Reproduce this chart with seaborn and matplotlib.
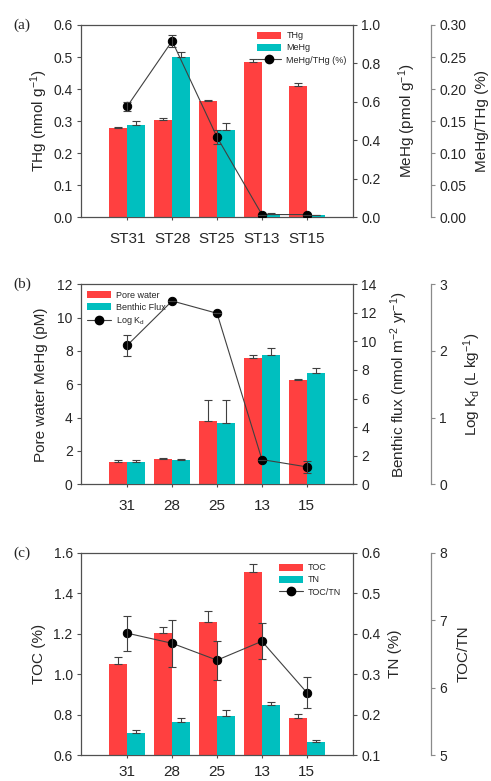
import numpy as np
import pandas as pd
import matplotlib
matplotlib.use("Agg")
import matplotlib.pyplot as plt
import seaborn as sns
from matplotlib.patches import Patch
from matplotlib.lines import Line2D

sns.set_style("ticks")
plt.rcParams["font.family"] = ["Liberation Sans", "DejaVu Sans"]
plt.rcParams["mathtext.default"] = "regular"

RED = "#FF4040"
CYAN = "#00BFBF"
SPINE = "#505050"
SPINE3 = "#8a8a8a"
LINE = "#404040"

# panel (a)
stations_a = ["ST31", "ST28", "ST25", "ST13", "ST15"]
thg = [0.278, 0.303, 0.362, 0.484, 0.409]
thg_err = [0.002, 0.008, 0.005, 0.010, 0.010]
mehg = [0.478, 0.833, 0.452, 0.017, 0.009]
mehg_err = [0.020, 0.025, 0.040, 0.002, 0.002]
ratio_a = [0.173, 0.275, 0.125, 0.004, 0.004]
ratio_a_err = [0.0075, 0.0094, 0.011, 0.0, 0.0]

# panel (b)
stations = ["31", "28", "25", "13", "15"]
pore = [1.32, 1.54, 3.78, 7.56, 6.28]
pore_err = [0.16, 0.02, 1.26, 0.22, 0.03]
flux = [1.54, 1.73, 4.32, 9.08, 7.77]
flux_err = [0.19, 0.07, 1.56, 0.49, 0.35]
logkd = [2.085, 2.75, 2.565, 0.37, 0.26]
logkd_err = [0.155, 0.0, 0.0, 0.0, 0.095]

# panel (c)
toc = [1.051, 1.205, 1.26, 1.504, 0.783]
toc_err = [0.037, 0.03, 0.055, 0.043, 0.023]
tn = [0.1545, 0.182, 0.197, 0.224, 0.133]
tn_err = [0.0075, 0.011, 0.014, 0.007, 0.004]
ratio_c = [6.81, 6.66, 6.41, 6.69, 5.93]
ratio_c_err = [0.26, 0.35, 0.29, 0.27, 0.23]


def style_spines(ax, ax2, ax3, xpad):
    for s in ax.spines.values():
        s.set_color(SPINE)
        s.set_linewidth(0.9)
    ax.spines["right"].set_visible(False)
    for name in ["left", "top", "bottom"]:
        ax2.spines[name].set_visible(False)
        ax3.spines[name].set_visible(False)
    ax2.spines["right"].set_color(SPINE)
    ax2.spines["right"].set_linewidth(0.9)
    ax3.spines["right"].set_position(("axes", 1.287))
    ax3.spines["right"].set_color(SPINE3)
    ax3.spines["right"].set_linewidth(0.9)
    ax.tick_params(axis="y", direction="out", length=3, width=0.8, color=SPINE, labelsize=10, pad=3)
    ax.tick_params(axis="x", direction="out", length=2, width=0.8, color=SPINE, labelsize=11, pad=xpad)
    ax2.tick_params(axis="y", direction="out", length=3, width=0.8, color=SPINE, labelsize=10, pad=3)
    ax3.tick_params(axis="y", direction="out", length=3, width=0.8, color=SPINE3, labelsize=10, pad=3)


def panel(rect, labels, v1, e1, v2, e2, v3, e3, lims, ticks, names, legend_kw, tag, xpad=9):
    ax = fig.add_axes(rect)
    ax2 = ax.twinx()
    ax3 = ax.twinx()
    x = np.arange(len(labels))
    df1 = pd.DataFrame({"pos": x - 0.2, "val": v1})
    df2 = pd.DataFrame({"pos": x + 0.2, "val": v2})
    sns.barplot(data=df1, x="pos", y="val", native_scale=True, width=0.4,
                color=RED, saturation=1, errorbar=None, linewidth=0, ax=ax)
    sns.barplot(data=df2, x="pos", y="val", native_scale=True, width=0.4,
                color=CYAN, saturation=1, errorbar=None, linewidth=0, ax=ax2)
    ax.errorbar(x - 0.2, v1, yerr=[np.zeros(len(x)), e1], fmt="none",
                ecolor=LINE, elinewidth=0.8, capsize=3, capthick=0.8)
    ax2.errorbar(x + 0.2, v2, yerr=[np.zeros(len(x)), e2], fmt="none",
                 ecolor=LINE, elinewidth=0.8, capsize=3, capthick=0.8)
    sns.lineplot(x=x, y=v3, ax=ax3, color=LINE, linewidth=0.8, marker="o",
                 markersize=6, markerfacecolor="black", markeredgecolor="black")
    ax3.errorbar(x, v3, yerr=e3, fmt="none", ecolor=LINE, elinewidth=0.8,
                 capsize=3, capthick=0.8)
    for a, lim, tk in zip([ax, ax2, ax3], lims, ticks):
        a.set_ylim(*lim)
        a.set_yticks(tk[0])
        a.set_yticklabels(tk[1])
        a.set_xlim(-1.03, 5.03)
    ax.set_xticks(x)
    ax.set_xticklabels(labels)
    ax.set_xlabel("")
    ax2.set_xlabel("")
    ax3.set_xlabel("")
    ax.set_ylabel(names[0], fontsize=11)
    ax2.set_ylabel(names[1], fontsize=11)
    ax3.set_ylabel(names[2], fontsize=11)
    style_spines(ax, ax2, ax3, xpad)
    ax.yaxis.set_label_coords(names[3][0], 0.5)
    ax2.yaxis.set_label_coords(names[3][1], 0.5)
    ax3.yaxis.set_label_coords(names[3][2], 0.5)
    handles = [Patch(facecolor=RED, edgecolor="none"),
               Patch(facecolor=CYAN, edgecolor="none"),
               Line2D([], [], color=LINE, lw=0.8, marker="o", markersize=6,
                      markerfacecolor="black", markeredgecolor="black")]
    ax3.legend(handles, legend_kw.pop("labels"), frameon=False, fontsize=6.5,
               handlelength=2.6, handleheight=0.8, labelspacing=0.35,
               handletextpad=0.6, borderpad=0.2, **legend_kw)
    fig.text(0.027, rect[1] + rect[3], tag, family=["Liberation Serif", "DejaVu Serif"],
             fontsize=11, va="center", ha="left")


fig = plt.figure(figsize=(4.91, 7.81), dpi=100)

panel([0.165, 0.722, 0.554, 0.246], stations_a, thg, thg_err, mehg, mehg_err,
      ratio_a, ratio_a_err,
      [(0, 0.6), (0, 1.0), (0, 0.3)],
      [(np.arange(0, 0.61, 0.1), ["0.0", "0.1", "0.2", "0.3", "0.4", "0.5", "0.6"]),
       (np.arange(0, 1.01, 0.2), ["0.0", "0.2", "0.4", "0.6", "0.8", "1.0"]),
       (np.arange(0, 0.301, 0.05), ["0.00", "0.05", "0.10", "0.15", "0.20", "0.25", "0.30"])],
      ["THg (nmol g$^{-1}$)", "MeHg (pmol g$^{-1}$)", "MeHg/THg (%)", (-0.115, 1.16, 1.45)],
      dict(labels=["THg", "MeHg", "MeHg/THg (%)"], loc="upper right",
           bbox_to_anchor=(1.0, 1.0)), "(a)")

panel([0.165, 0.380, 0.554, 0.256], stations, pore, pore_err, flux, flux_err,
      logkd, logkd_err,
      [(0, 12), (0, 14), (0, 3)],
      [(np.arange(0, 13, 2), [str(v) for v in range(0, 13, 2)]),
       (np.arange(0, 15, 2), [str(v) for v in range(0, 15, 2)]),
       (np.arange(0, 4, 1), ["0", "1", "2", "3"])],
      ["Pore water MeHg (pM)", "Benthic flux (nmol m$^{-2}$ yr$^{-1}$)",
       "Log K$_{d}$ (L kg$^{-1}$)", (-0.12, 1.13, 1.40)],
      dict(labels=["Pore water", "Benthic Flux", "Log K$_{d}$"], loc="upper left",
           bbox_to_anchor=(0.0, 1.0)), "(b)")

panel([0.165, 0.033, 0.554, 0.259], stations, toc, toc_err, tn, tn_err,
      ratio_c, ratio_c_err,
      [(0.6, 1.6), (0.1, 0.6), (5, 8)],
      [(np.arange(0.6, 1.61, 0.2), ["0.6", "0.8", "1.0", "1.2", "1.4", "1.6"]),
       (np.arange(0.1, 0.61, 0.1), ["0.1", "0.2", "0.3", "0.4", "0.5", "0.6"]),
       (np.arange(5, 9, 1), ["5", "6", "7", "8"])],
      ["TOC (%)", "TN (%)", "TOC/TN", (-0.128, 1.13, 1.38)],
      dict(labels=["TOC", "TN", "TOC/TN"], loc="upper right",
           bbox_to_anchor=(0.98, 0.98)), "(c)", xpad=5)

fig.savefig("out.png", dpi=100)
